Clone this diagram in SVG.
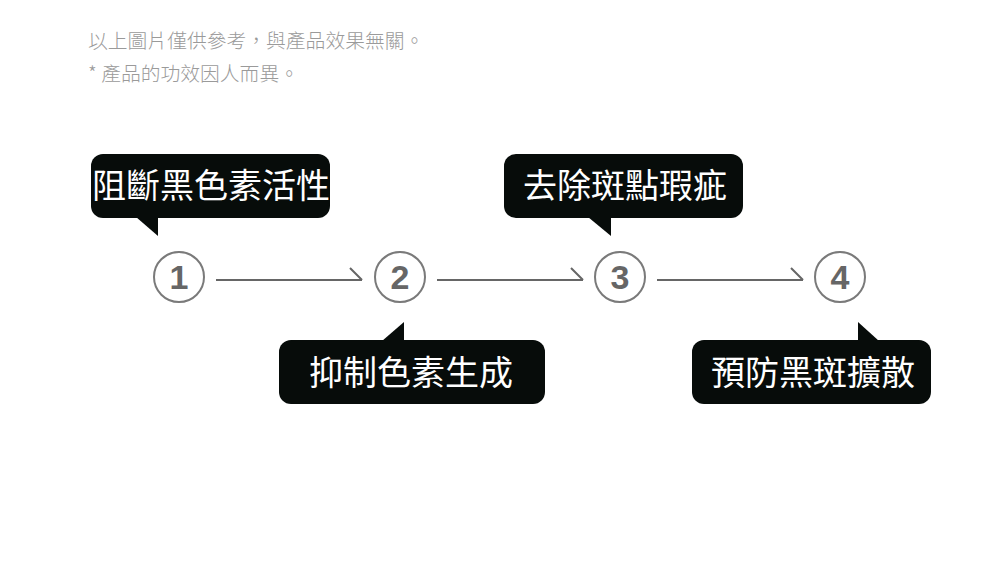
<svg xmlns="http://www.w3.org/2000/svg" width="1000" height="569" viewBox="0 0 1000 569">
<style>
.note{font-family:"Noto Sans CJK TC","Noto Sans",sans-serif;font-size:19.8px;font-weight:300;fill:#9a9a9a}
.bub{fill:#070c0a}
.bt{font-family:"Noto Sans CJK TC","Noto Sans",sans-serif;font-size:34px;fill:#ffffff;text-anchor:middle}
.circ{fill:#ffffff;stroke:#7a7a7a;stroke-width:2}
.num{font-family:"Liberation Sans",Arial,sans-serif;font-weight:bold;font-size:34px;fill:#666666;text-anchor:middle}
.ln{fill:none;stroke:#666666;stroke-width:2}
</style>
<rect width="1000" height="569" fill="#ffffff"/>
<text class="note" x="88" y="48">以上圖片僅供參考，與產品效果無關。</text>
<text class="note" x="88" y="81">* 產品的功效因人而異。</text>
<g id="connectors">
<path class="ln" d="M216 280H362M350 268L362 280"/>
<path class="ln" d="M437 280H583M571 268L583 280"/>
<path class="ln" d="M657 280H803M791 268L803 280"/>
</g>
<g id="step1"><circle class="circ" cx="179" cy="277" r="25"/><text class="num" x="179" y="289">1</text></g>
<g id="step2"><circle class="circ" cx="400" cy="277" r="25"/><text class="num" x="400" y="289">2</text></g>
<g id="step3"><circle class="circ" cx="620" cy="277" r="25"/><text class="num" x="620" y="289">3</text></g>
<g id="step4"><circle class="circ" cx="840" cy="277" r="25"/><text class="num" x="840" y="289">4</text></g>
<g id="bubble1">
<rect class="bub" x="91" y="154" width="239" height="64" rx="12"/>
<path class="bub" d="M136 217L158 236L158 217Z"/>
<text class="bt" x="211" y="198" font-size="33">阻斷黑色素活性</text>
</g>
<g id="bubble2">
<rect class="bub" x="279" y="340" width="266" height="64" rx="12"/>
<path class="bub" d="M382 341L404 322L404 341Z"/>
<text class="bt" x="411" y="385">抑制色素生成</text>
</g>
<g id="bubble3">
<rect class="bub" x="504" y="154" width="239" height="64" rx="12"/>
<path class="bub" d="M588 217L611 236L611 217Z"/>
<text class="bt" x="625" y="198">去除斑點瑕疵</text>
</g>
<g id="bubble4">
<rect class="bub" x="692" y="340" width="239" height="64" rx="12"/>
<path class="bub" d="M858 322L858 341L879 341Z"/>
<text class="bt" x="813" y="385">預防黑斑擴散</text>
</g>
</svg>
